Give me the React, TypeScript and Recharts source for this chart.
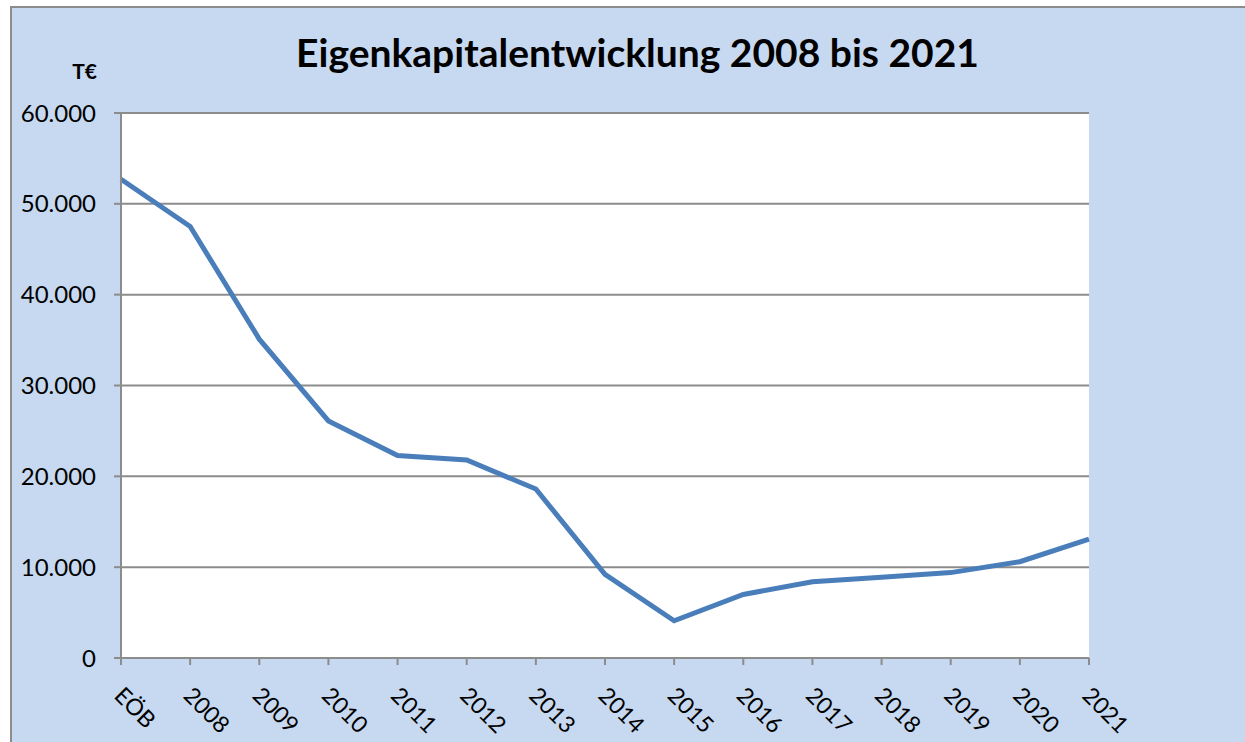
import React from "react";
import { LineChart, Line, XAxis, YAxis, CartesianGrid } from "recharts";

const categories = ["EÖB", "2008", "2009", "2010", "2011", "2012", "2013", "2014", "2015", "2016", "2017", "2018", "2019", "2020", "2021"];
const equity = [52700, 47500, 35100, 26100, 22300, 21800, 18600, 9200, 4100, 7000, 8400, 8900, 9400, 10600, 13100];
const yTicks = [0, 10000, 20000, 30000, 40000, 50000, 60000];
const titleText = "Eigenkapitalentwicklung 2008 bis 2021";
const unitText = "T€";

const data = categories.map((c, i) => ({ cat: c, value: equity[i] }));

const FONT = "Lato, 'Open Sans', sans-serif";

const fmt = (v: number) => {
  const s = Math.round(v).toString();
  return s.replace(/\B(?=(\d{3})+(?!\d))/g, ".");
};

const XTick = (props: any) => {
  const { x, y, payload } = props;
  return (
    <g transform={`translate(${x},${y})`}>
      <text
        x={0}
        y={0}
        transform="translate(-8,30) rotate(45)"
        textAnchor="start"
        fontSize={23}
        fontFamily={FONT}
        fill="#000"
      >
        {payload.value}
      </text>
    </g>
  );
};

export default function App() {
  return (
    <div style={{ position: "fixed", left: 0, top: 0, width: 1245, height: 742, overflow: "hidden", background: "#fff" }}>
      <div
        style={{
          position: "absolute",
          left: 10,
          top: 6,
          width: 1300,
          height: 800,
          background: "#C6D9F0",
          borderTop: "2px solid #8c8c8c",
          borderLeft: "2px solid #8c8c8c",
        }}
      />
      <div
        style={{
          position: "absolute",
          left: 0,
          width: 1275,
          top: 27,
          textAlign: "center",
          fontFamily: FONT,
          fontWeight: 700,
          fontSize: 39,
          lineHeight: "50px",
          color: "#000",
        }}
      >
        {titleText}
      </div>
      <div
        style={{
          position: "absolute",
          left: 50,
          width: 47,
          top: 58,
          textAlign: "right",
          fontFamily: FONT,
          fontWeight: 700,
          fontSize: 21,
          lineHeight: "26px",
          color: "#000",
        }}
      >
        {unitText}
      </div>
      <div style={{ position: "absolute", left: 0, top: 0 }}>
        <LineChart
          width={1245}
          height={742}
          data={data}
          margin={{ top: 113, right: 156, bottom: 0, left: 0 }}
        >
          <CartesianGrid vertical={false} stroke="#8c8c8c" strokeWidth={2} fill="#ffffff" fillOpacity={1} />
          <XAxis
            dataKey="cat"
            height={84}
            tick={<XTick />}
            tickSize={7}
            stroke="#8c8c8c"
            strokeWidth={2}
            tickLine={{ stroke: "#8c8c8c", strokeWidth: 2 }}
            interval={0}
          />
          <YAxis
            width={121}
            domain={[0, 60000]}
            ticks={yTicks}
            tickFormatter={fmt}
            tickSize={7}
            tickMargin={18}
            stroke="#8c8c8c"
            strokeWidth={2}
            tick={{ fill: "#000", fontSize: 24, fontFamily: FONT }}
            tickLine={{ stroke: "#8c8c8c", strokeWidth: 2 }}
            interval={0}
          />
          <Line
            type="linear"
            dataKey="value"
            stroke="#4A7EBB"
            strokeWidth={5}
            dot={false}
            isAnimationActive={false}
          />
        </LineChart>
      </div>
    </div>
  );
}
